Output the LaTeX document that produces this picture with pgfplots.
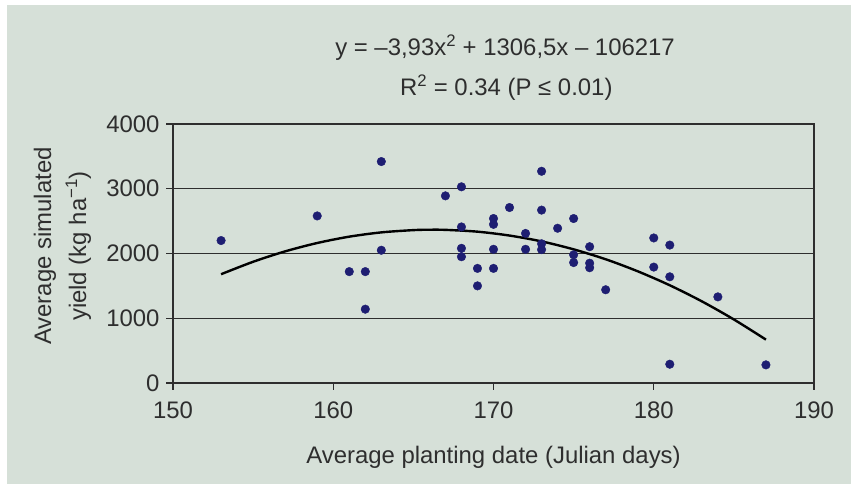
\documentclass[border=0pt]{standalone}
\usepackage{pgfplots}
\pgfplotsset{compat=1.18}
\usepackage{fontspec}
\setmainfont{Liberation Sans}
\definecolor{panel}{HTML}{D6E0D8}
\definecolor{navy}{HTML}{1E1E72}
\definecolor{ink}{HTML}{2E2E2E}
\begin{document}
\begin{tikzpicture}[x=1bp,y=1bp]
\fill[white] (0,0) rectangle (851,484);
\fill[panel] (7,0) rectangle (851,479);
\begin{axis}[
  at={(173bp,101bp)}, anchor=south west,
  scale only axis, width=641bp, height=259bp,
  xmin=150, xmax=190, ymin=0, ymax=4000,
  xtick={150,160,...,190}, ytick={0,1000,...,4000},
  xtick pos=bottom, ytick pos=left,
  tick align=outside, major tick length=7bp,
  ymajorgrids,
  grid style={draw=ink, line width=1.3bp},
  axis line style={draw=ink, line width=1.3bp},
  tick style={draw=ink, line width=1.3bp},
  /pgf/number format/assume math mode=true,
  /pgf/number format/set thousands separator={},
  tick label style={font=\fontsize{24}{26}\selectfont, text=ink},
  xticklabel style={yshift=-8bp},
  yticklabel style={xshift=-3bp},
  label style={font=\fontsize{24}{35}\selectfont, text=ink},
  xlabel={Average planting date (Julian days)},
  xlabel style={at={(axis description cs:0.5,-0.309)}, anchor=base},
  ylabel={Average simulated\\yield (kg ha\textsuperscript{−1})},
  ylabel style={at={(axis description cs:-0.1724,0.529)}, anchor=center, align=center},
  clip=false,
]
\addplot[only marks, mark=*, mark size=4.3bp, mark options={fill=navy, draw=navy}] coordinates {
(153,2200) (159,2580) (161,1720) (162,1720) (162,1140) (163,3420) (163,2050)
(167,2890) (168,3030) (168,2410) (168,2080) (168,1950)
(169,1770) (169,1500)
(170,2540) (170,2450) (170,2065) (170,1770)
(171,2710) (172,2310) (172,2065)
(173,3270) (173,2670) (173,2150) (173,2060)
(174,2390) (175,2540) (175,1980) (175,1860)
(176,2105) (176,1850) (176,1780) (177,1440)
(180,2240) (180,1790) (181,2130) (181,1640) (181,290)
(184,1330) (187,280)
};
\addplot[black, line width=2.4bp, smooth] coordinates {
(153,1680) (155,1872) (157,2033) (159,2162) (161,2260) (163,2326) (165,2361)
(166,2367) (167,2365) (169,2337) (171,2277) (173,2187) (175,2064) (177,1911)
(179,1725) (181,1509) (183,1261) (185,981) (187,670)
};
\node[font=\fontsize{24}{26}\selectfont, text=ink, anchor=base] at (axis description cs:0.518,1.265) {y = –3,93x\textsuperscript{2} + 1306,5x – 106217};
\node[font=\fontsize{24}{26}\selectfont, text=ink, anchor=base] at (axis description cs:0.52,1.11) {R\textsuperscript{2} = 0.34 (P ≤ 0.01)};
\end{axis}
\end{tikzpicture}
\end{document}
